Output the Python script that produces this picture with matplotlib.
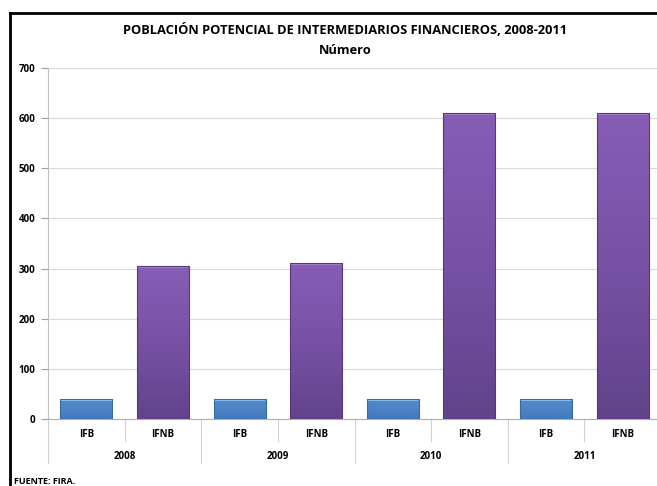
import numpy as np
import matplotlib.pyplot as plt
from matplotlib.colors import LinearSegmentedColormap
from matplotlib.lines import Line2D

plt.rcParams['font.family'] = ['Open Sans', 'DejaVu Sans']
plt.rcParams['font.weight'] = 'bold'

years = ['2008', '2009', '2010', '2011']
groups = ['IFB', 'IFNB']
ifb = [39, 39, 40, 40]
ifnb = [305, 311, 610, 610]

fig = plt.figure(figsize=(6.57, 4.86), dpi=100)
# plot area runs slightly past the right edge of the image, as in the original
ax = fig.add_axes([48 / 657, 1 - 419 / 486, 613 / 657, 351 / 486])

labels = []
values = []
for i, y in enumerate(years):
    labels += groups
    values += [ifb[i], ifnb[i]]
x = np.arange(len(values))
width = 0.68

blue = LinearSegmentedColormap.from_list('b', ['#4279bb', '#4d84c6', '#5289cc'])
purple = LinearSegmentedColormap.from_list('p', ['#62438a', '#714c9c', '#7d55ab', '#875db6'])

for xi, v, lab in zip(x, values, labels):
    cmap = blue if lab == 'IFB' else purple
    edge = '#3a6aa5' if lab == 'IFB' else '#553878'
    bar = ax.bar(xi, v, width, color='none', edgecolor=edge, linewidth=0.8, zorder=5)[0]
    grad = np.linspace(0, 1, 256).reshape(-1, 1)
    im = ax.imshow(grad, cmap=cmap, aspect='auto', origin='lower',
                   extent=[xi - width / 2, xi + width / 2, 0, v], zorder=3)
    im.set_clip_path(bar)
    # light bevel on top
    h = 4
    ax.bar(xi, h, width * 0.97, bottom=v - h,
           color='#8dbcf0' if lab == 'IFB' else '#a47fcf', zorder=4)

ax.set_xlim(-0.5, len(values) - 0.5)
ax.set_ylim(0, 700)
ax.set_yticks(range(0, 701, 100))
ax.tick_params(axis='y', labelsize=7, length=5, color='#a0a0a0', pad=4)
ax.set_xticks([])
ax.grid(axis='y', color='#d9d9d9', linewidth=0.8, zorder=0)
for s in ['top', 'right']:
    ax.spines[s].set_visible(False)
ax.spines['left'].set_color('#c0c0c0')
ax.spines['bottom'].set_color('#b0b0b0')

# category labels
for xi, lab in zip(x, labels):
    ax.text(xi, -30, lab, ha='center', va='center', fontsize=7)
for i, y in enumerate(years):
    ax.text(2 * i + 0.5, -74, y, ha='center', va='center', fontsize=7)
# separators
for k in range(len(values) + 1):
    xs = k - 0.5
    bottom = -88 if k % 2 == 0 else -44
    ax.add_line(Line2D([xs, xs], [0, bottom], color='#d0d0d0', lw=0.8, clip_on=False))

fig.text(345 / 657, 1 - 30 / 486, 'POBLACIÓN POTENCIAL DE INTERMEDIARIOS FINANCIEROS, 2008-2011',
         ha='center', va='center', fontsize=9.3)
fig.text(345 / 657, 1 - 50 / 486, 'Número', ha='center', va='center', fontsize=9.3)
fig.text(14 / 657, 1 - 481 / 486, 'FUENTE: FIRA.', ha='left', va='center', fontsize=6.5)

# outer frame
fig.add_artist(Line2D([10 / 657, 10 / 657], [0, 1 - 13 / 486], color='black', lw=2, transform=fig.transFigure))
fig.add_artist(Line2D([10 / 657, 1], [1 - 13 / 486, 1 - 13 / 486], color='black', lw=2, transform=fig.transFigure))

fig.savefig('out.png', dpi=100)
